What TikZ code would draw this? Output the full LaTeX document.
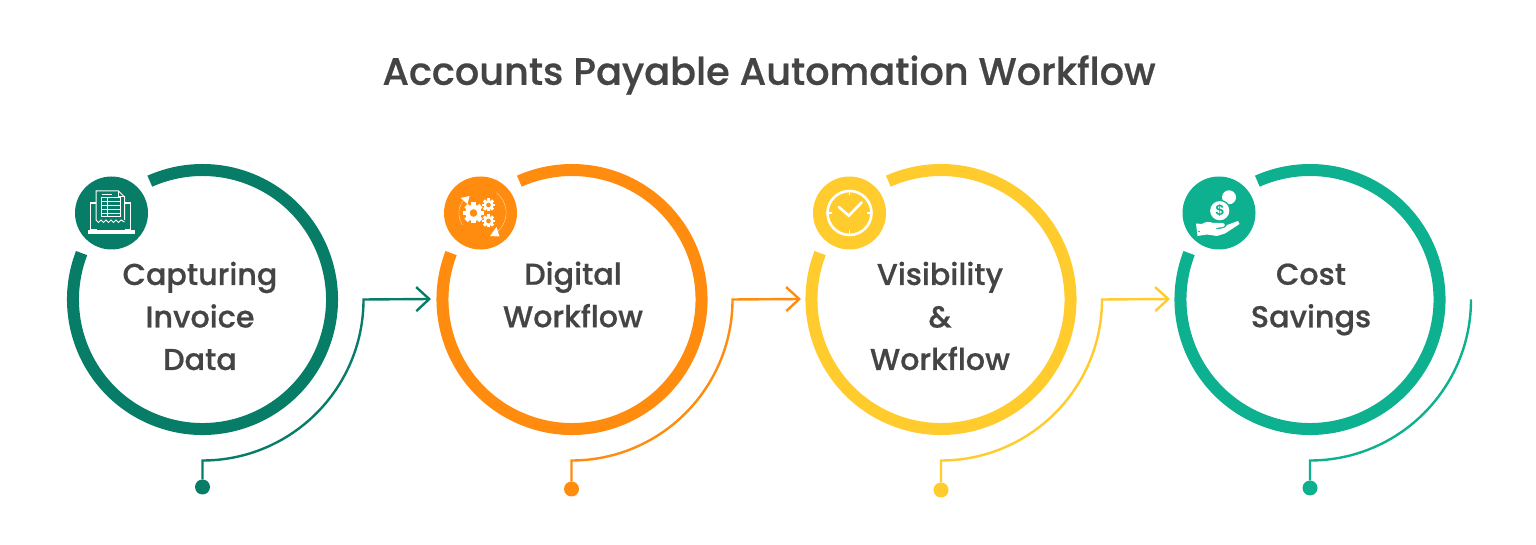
\documentclass[tikz,border=0pt]{standalone}
\usepackage{fontspec}
\setmainfont[FakeBold=0.35]{Poppins Medium}
\newfontfamily\boldtext[FakeBold=0.6]{Poppins Medium}
\newfontfamily\dollarfont{Liberation Sans Bold}
\usetikzlibrary{arrows.meta}
\definecolor{cA}{HTML}{077C67}
\definecolor{cB}{HTML}{FF8C0E}
\definecolor{cC}{HTML}{FFCB2D}
\definecolor{cD}{HTML}{0DB08F}
\definecolor{ink}{HTML}{444444}
\tikzset{
  ringarc/.style={line width=12pt,line cap=butt},
  badge/.style={circle,minimum size=73pt,inner sep=0pt,fill=#1},
  dotend/.style={circle,minimum size=15pt,inner sep=0pt,fill=#1},
  link/.style={line width=2.4pt,draw=#1,line join=miter},
  steplabel/.style={text=ink,align=center,font=\boldtext\fontsize{30.2}{42.5}\selectfont,inner sep=0pt},
  titlelabel/.style={text=ink,font=\boldtext\fontsize{38.2}{50}\selectfont,inner sep=0pt},
  barb/.style={-{Straight Barb[length=13pt,width=24pt,line width=2.4pt]}},
  ic/.style={white,line width=1pt,line join=miter}
}
\newcommand{\cogshape}[4]{% x y radius hole colour
  \foreach \a in {0,45,...,315}{
    \fill[white,shift={(#1,#2)},rotate=\a] (-#3*0.22,#3*0.6) rectangle (#3*0.22,#3);
  }
  \fill[white] (#1,#2) circle[radius=#3*0.78];
  \fill[#4] (#1,#2) circle[radius=#3*0.36];
}
\begin{document}
\begin{tikzpicture}[x=1pt,y=1pt]
\useasboundingbox (0,0) rectangle (1536,545);
\node[titlelabel] (title) at (769,470) {Accounts Payable Automation Workflow};
% rings
\coordinate (r1) at (202.5,245.5);
\coordinate (r2) at (572,245.5);
\coordinate (r3) at (941,245.5);
\coordinate (r4) at (1310,245.5);
\draw[ringarc,cA] (r1) ++(159:129.5) arc[start angle=159,end angle=474,radius=129.5];
\draw[ringarc,cB] (r2) ++(159:129.5) arc[start angle=159,end angle=474,radius=129.5];
\draw[ringarc,cC] (r3) ++(159:129.5) arc[start angle=159,end angle=474,radius=129.5];
\draw[ringarc,cD] (r4) ++(159:129.5) arc[start angle=159,end angle=474,radius=129.5];
% labels
\node[steplabel] (t1) at (200,229) {Capturing\\Invoice\\Data};
\node[steplabel] (t2) at (573,250.5) {Digital\\Workflow};
\node[steplabel] (t3) at (940,229) {Visibility\\\&\\Workflow};
\node[steplabel] (t4) at (1311,245.5) {Cost\\Savings};
% connectors
\node[dotend=cA] (d1) at (202.5,58) {};
\node[dotend=cB] (d2) at (571.5,56) {};
\node[dotend=cC] (d3) at (941,55) {};
\node[dotend=cD] (d4) at (1310,57) {};
\coordinate (k1) at (202.5,84.5);
\coordinate (k2) at (571.5,84.5);
\coordinate (k3) at (941,84.5);
\coordinate (k4) at (1310,84.5);
\coordinate (a1) at (431,246);
\coordinate (a2) at (801,246);
\coordinate (a3) at (1170,246);
\draw[link=cA,barb] (d1) -- (k1) arc[start angle=-90,end angle=0,radius=161] -- (a1);
\draw[link=cB,barb] (d2) -- (k2) arc[start angle=-90,end angle=0,radius=161] -- (a2);
\draw[link=cC,barb] (d3) -- (k3) arc[start angle=-90,end angle=0,radius=161] -- (a3);
\draw[link=cD] (d4) -- (k4) arc[start angle=-90,end angle=0,radius=161];
% badges
\node[badge=cA] (b1) at (111.5,332) {};
\node[badge=cB] (b2) at (480.5,332) {};
\node[badge=cC] (b3) at (849.5,332) {};
\node[badge=cD] (b4) at (1219,332) {};
% icon 1: invoice on laptop
\begin{scope}[shift={(b1.center)},yscale=-1]
  \draw[ic,line width=1.1pt] (-15,17) -- (-21,17) -- (-21,-10) -- (-16,-10);
  \draw[ic,line width=1.1pt] (13,17) -- (19,17) -- (19,-10) -- (13,-10);
  \fill[white] (-24,17.5) rectangle (23,21.5);
  \fill[cA] (-15.5,-22) -- (7,-22) -- (13,-16) -- (13,8) -- (-15.5,8) -- cycle;
  \draw[ic] (13,7) -- (13,-16) -- (7,-22) -- (-15.5,-22) -- (-15.5,7);
  \draw[ic] (7,-22) -- (7,-16) -- (13,-16);
  \draw[ic] (-15.5,7) -- (-13,9.5) -- (-10.5,7) -- (-8,9.5) -- (-5.5,7) -- (-3,9.5) -- (-0.5,7) -- (2,9.5) -- (4.5,7) -- (7,9.5) -- (9.5,7) -- (13,9);
  \draw[ic,line width=.8pt] (-10,-19) -- (0,-19);
  \draw[ic] (-10,-15) rectangle (9,4);
  \foreach \yy in {-11.2,-7.4,-3.6,0.2}{\draw[ic,line width=.8pt] (-10,\yy) -- (9,\yy);}
  \draw[ic,line width=.8pt] (-4,-15) -- (-4,4);
\end{scope}
% icon 2: gears
\begin{scope}[shift={(b2.center)},yscale=-1]
  \cogshape{-7}{0}{10.5}{cB}
  \cogshape{8}{-8}{6.5}{cB}
  \cogshape{8}{8}{6.5}{cB}
  \draw[white,line width=.4pt,opacity=.7] (-18,12) arc[start angle=146,end angle=215,radius=21];
  \draw[white,line width=.4pt,opacity=.7] (16,-20) arc[start angle=-52,end angle=52,radius=25];
  \fill[white] (-20,-15) -- (-11,-17) -- (-13,-9) -- cycle;
  \fill[white] (9.5,23) -- (19,23.5) -- (16,14) -- cycle;
\end{scope}
% icon 3: clock
\begin{scope}[shift={(b3.center)},yscale=-1]
  \draw[white,line width=2.6pt] (0,0) circle[radius=22];
  \foreach \a in {0,90,180,270}{\fill[white,rotate=\a] (-.9,-22) rectangle (.9,-17.5);}
  \draw[white,line width=2.6pt,line cap=round] (-10.7,-6) -- (-0.7,2.7) -- (12.3,-10.7);
\end{scope}
% icon 4: coin in hand
\begin{scope}[shift={(b4.center)},yscale=-1]
  \fill[white] (10,-15.7) circle[radius=7];
  \fill[cD] (0.7,-2.3) circle[radius=11];
  \fill[white] (0.7,-2.3) circle[radius=9.6];
  \node[text=cD,inner sep=0pt,font=\dollarfont\fontsize{15}{15}\selectfont] (coin) at (0.7,-2.3) {\$};
  \fill[white] (-23,10.5) -- (-21.5,23) -- (-12,21.5) -- (-2,23) -- (6,20.5) -- (20.5,11) -- (19,8) -- (8,12)
     .. controls (7,15) and (3,16) .. (-3,16) -- (-3,15) -- (4,14) .. controls (7,13) and (6,10) .. (3,10)
     -- (-6,10) .. controls (-10,8) and (-14,9) .. (-17,11) -- cycle;
  \fill[cD] (-20,18.5) circle[radius=.9];
\end{scope}
\end{tikzpicture}
\end{document}
